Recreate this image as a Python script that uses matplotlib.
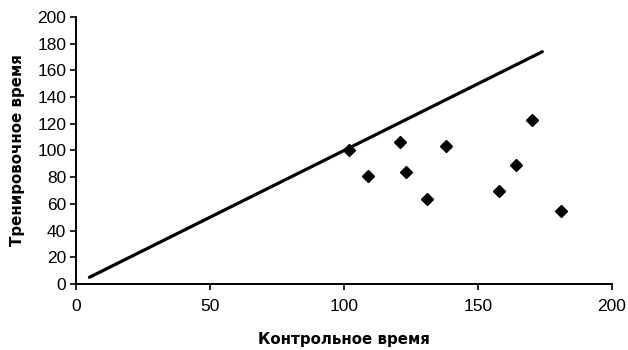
import matplotlib
matplotlib.use("Agg")
import matplotlib.pyplot as plt

control_time = [102, 109, 121, 123, 131, 138, 158, 164, 170, 181]
training_time = [100, 81, 106, 84, 64, 103, 70, 89, 123, 55]
line_x = [5, 174]
line_y = [5, 174]
x_ticks = [0, 50, 100, 150, 200]
y_ticks = [0, 20, 40, 60, 80, 100, 120, 140, 160, 180, 200]

plt.rcParams['font.family'] = ['Liberation Sans', 'DejaVu Sans']

fig = plt.figure(figsize=(6.28, 3.5), dpi=100)
ax = fig.add_axes([76/628, 66/350, 536/628, 267/350])

ax.plot(line_x, line_y, color='black', linewidth=2.3, solid_capstyle='round')
ax.plot(control_time, training_time, linestyle='none', marker='D', markersize=6.5,
        color='black')

ax.set_xlim(0, 200)
ax.set_ylim(0, 200)
ax.set_xticks(x_ticks)
ax.set_yticks(y_ticks)
ax.tick_params(axis='both', labelsize=12.5, length=4, width=1.2, color='black')
ax.tick_params(axis='x', pad=7)
ax.tick_params(axis='y', pad=3)
for s in ['top', 'right']:
    ax.spines[s].set_visible(False)
for s in ['left', 'bottom']:
    ax.spines[s].set_linewidth(1.4)

lab_font = dict(fontsize=10.8, fontweight='bold', family=['DejaVu Sans'])
ax.set_xlabel('Контрольное время', labelpad=13, **lab_font)
ax.set_ylabel('Тренировочное время', labelpad=9, **lab_font)

fig.savefig('out.png', dpi=100)
